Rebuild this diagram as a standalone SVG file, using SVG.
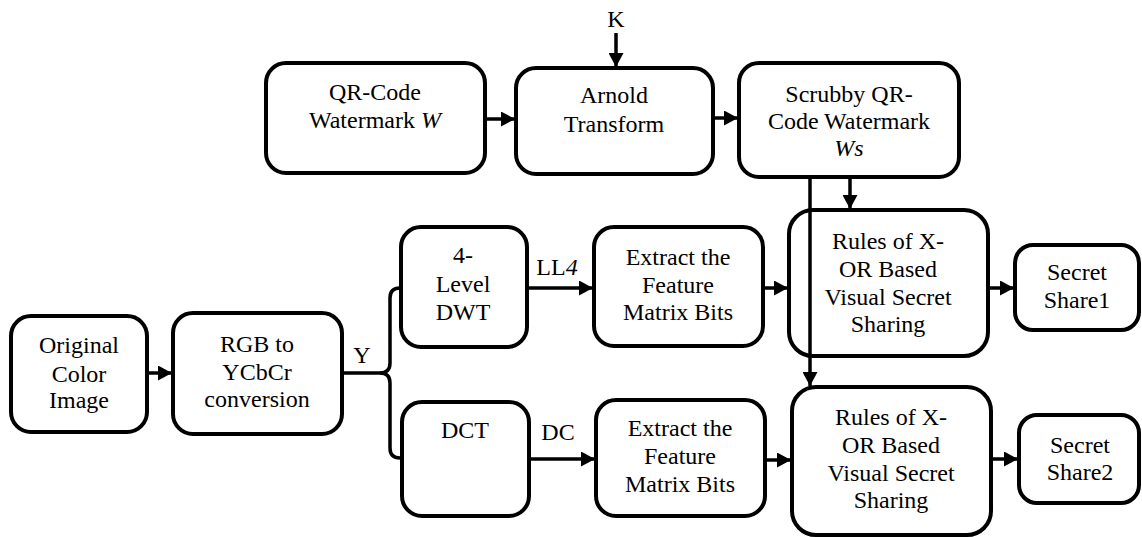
<svg xmlns="http://www.w3.org/2000/svg" width="1142" height="537" viewBox="0 0 1142 537">
<defs>
<style>
.box{fill:#fff;stroke:#000;stroke-width:4}
.t{font-family:'Liberation Serif','Times New Roman',serif;font-size:24px;fill:#000;text-anchor:middle}
.c{fill:none;stroke:#000;stroke-width:3.5}
.i{font-style:italic}
</style>
<marker id="ah" viewBox="0 0 14 15" refX="14" refY="7.5" markerWidth="14" markerHeight="15" markerUnits="userSpaceOnUse" orient="auto">
<path d="M0,0 L14,7.5 L0,15 z" fill="#000"/>
</marker>
</defs>
<rect width="1142" height="537" fill="#fff"/>
<g id="qr">
<rect class="box" x="266" y="63" width="219" height="110" rx="20"/>
<text class="t" x="375" y="100">QR-Code</text>
<text class="t" x="375" y="128">Watermark <tspan class="i">W</tspan></text>
</g>
<g id="arnold">
<rect class="box" x="516" y="68" width="197" height="106" rx="20"/>
<text class="t" x="614" y="103">Arnold</text>
<text class="t" x="614" y="132">Transform</text>
</g>
<g id="k">
<text class="t" x="616" y="27">K</text>
</g>
<g id="scrubby">
<rect class="box" x="739" y="63" width="220" height="114" rx="20"/>
<text class="t" x="849" y="102">Scrubby QR-</text>
<text class="t" x="849" y="129">Code Watermark</text>
<text class="t i" x="849" y="156">Ws</text>
</g>
<g id="original">
<rect class="box" x="11" y="316" width="136" height="116" rx="20"/>
<text class="t" x="79" y="353">Original</text>
<text class="t" x="79" y="382">Color</text>
<text class="t" x="79" y="408">Image</text>
</g>
<g id="rgb">
<rect class="box" x="173" y="313" width="169" height="121" rx="20"/>
<text class="t" x="257" y="352">RGB to</text>
<text class="t" x="257" y="380">YCbCr</text>
<text class="t" x="257" y="407">conversion</text>
</g>
<g id="dwt">
<rect class="box" x="401" y="227" width="126" height="120" rx="20"/>
<text class="t" x="463" y="263">4-</text>
<text class="t" x="463" y="292">Level</text>
<text class="t" x="463" y="320">DWT</text>
</g>
<g id="dct">
<rect class="box" x="402" y="402" width="127" height="114" rx="20"/>
<text class="t" x="465" y="438">DCT</text>
</g>
<g id="extract1">
<rect class="box" x="594" y="227" width="169" height="119" rx="20"/>
<text class="t" x="678" y="265">Extract the</text>
<text class="t" x="678" y="293">Feature</text>
<text class="t" x="678" y="320">Matrix Bits</text>
</g>
<g id="extract2">
<rect class="box" x="596" y="400" width="169" height="116" rx="20"/>
<text class="t" x="680" y="436">Extract the</text>
<text class="t" x="680" y="464">Feature</text>
<text class="t" x="680" y="492">Matrix Bits</text>
</g>
<g id="rules1">
<rect class="box" x="789" y="210" width="199" height="146" rx="24"/>
<text class="t" x="888" y="249">Rules of X-</text>
<text class="t" x="888" y="277">OR Based</text>
<text class="t" x="888" y="305">Visual Secret</text>
<text class="t" x="888" y="332">Sharing</text>
</g>
<g id="rules2">
<rect class="box" x="792" y="387" width="199" height="148" rx="24"/>
<text class="t" x="891" y="425">Rules of X-</text>
<text class="t" x="891" y="453">OR Based</text>
<text class="t" x="891" y="481">Visual Secret</text>
<text class="t" x="891" y="508">Sharing</text>
</g>
<g id="share1">
<rect class="box" x="1015" y="245" width="124" height="85" rx="18"/>
<text class="t" x="1077" y="280">Secret</text>
<text class="t" x="1077" y="308">Share1</text>
</g>
<g id="share2">
<rect class="box" x="1019" y="415" width="120" height="88" rx="18"/>
<text class="t" x="1080" y="453">Secret</text>
<text class="t" x="1080" y="480">Share2</text>
</g>
<g id="connectors">
<line class="c" x1="616" y1="33" x2="616" y2="67" marker-end="url(#ah)"/>
<line class="c" x1="485" y1="119" x2="515" y2="119" marker-end="url(#ah)"/>
<line class="c" x1="713" y1="118" x2="738" y2="118" marker-end="url(#ah)"/>
<line class="c" x1="850" y1="177" x2="850" y2="209" marker-end="url(#ah)"/>
<line class="c" x1="810" y1="177" x2="810" y2="386" marker-end="url(#ah)"/>
<line class="c" x1="147" y1="373" x2="172" y2="373" marker-end="url(#ah)"/>
<path class="c" d="M342,373 H380 Q390,373 390,363 V298 Q390,288 400,288 H401"/>
<path class="c" d="M380,373 Q390,373 390,383 V448 Q390,458 400,458 H402"/>
<line class="c" x1="527" y1="288" x2="593" y2="288" marker-end="url(#ah)"/>
<line class="c" x1="529" y1="459" x2="595" y2="459" marker-end="url(#ah)"/>
<line class="c" x1="763" y1="288" x2="788" y2="288" marker-end="url(#ah)"/>
<line class="c" x1="765" y1="460" x2="791" y2="460" marker-end="url(#ah)"/>
<line class="c" x1="988" y1="288" x2="1014" y2="288" marker-end="url(#ah)"/>
<line class="c" x1="991" y1="459" x2="1018" y2="459" marker-end="url(#ah)"/>
<text class="t" x="362" y="363">Y</text>
<text class="t" x="557" y="275">LL<tspan class="i">4</tspan></text>
<text class="t" x="558" y="440">DC</text>
</g>
</svg>
